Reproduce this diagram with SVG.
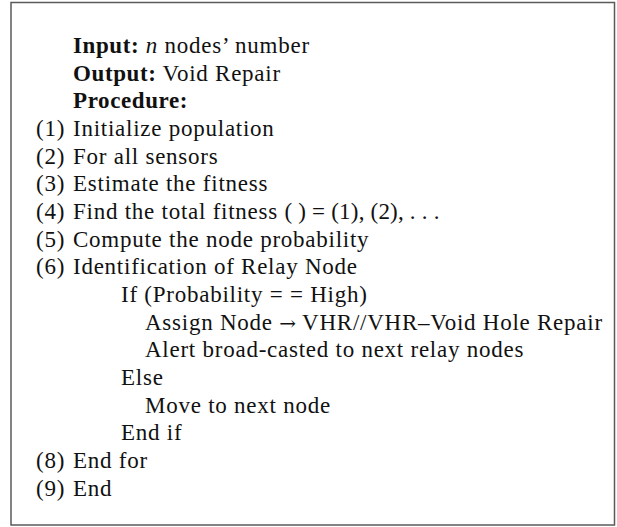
<svg xmlns="http://www.w3.org/2000/svg" width="617" height="527" viewBox="0 0 617 527">
  <style>
    .t { font-family: "Liberation Serif", "Times New Roman", serif; font-size: 23px; letter-spacing: 0.75px; fill: #111111; }
    .b { font-weight: bold; letter-spacing: 0.6px; }
    .i { font-style: italic; }
    .ar { font-family: "DejaVu Serif", serif; font-size: 20px; letter-spacing: 0; }
    .eq { letter-spacing: 0.2px; }
  </style>
  <rect width="617" height="527" fill="#ffffff"/>
  <g id="frame">
    <rect x="11" y="2.5" width="603.5" height="522.5" fill="none" stroke="#5a5a5a" stroke-width="1.5"/>
  </g>
  <g id="algorithm" class="t">
    <text x="73" y="53"><tspan class="b">Input:</tspan> <tspan class="i">n</tspan> nodes’ number</text>
    <text x="73" y="80.7"><tspan class="b">Output:</tspan> Void Repair</text>
    <text x="73" y="108.3"><tspan class="b">Procedure:</tspan></text>
    <text x="36" y="136">(1)</text><text x="73" y="136">Initialize population</text>
    <text x="36" y="163.7">(2)</text><text x="73" y="163.7">For all sensors</text>
    <text x="36" y="191.3">(3)</text><text x="73" y="191.3">Estimate the fitness</text>
    <text x="36" y="219">(4)</text><text x="73" y="219">Find the total fitness <tspan class="eq">( ) = (1), (2), . . .</tspan></text>
    <text x="36" y="246.7">(5)</text><text x="73" y="246.7">Compute the node probability</text>
    <text x="36" y="274.3">(6)</text><text x="73" y="274.3">Identification of Relay Node</text>
    <text x="121" y="302">If (Probability = = High)</text>
    <text x="145" y="329.7">Assign Node <tspan class="ar">→</tspan> VHR//VHR–Void Hole Repair</text>
    <text x="145" y="357.3">Alert broad-casted to next relay nodes</text>
    <text x="121" y="385">Else</text>
    <text x="145" y="412.7">Move to next node</text>
    <text x="121" y="440.3">End if</text>
    <text x="36" y="468">(8)</text><text x="73" y="468">End for</text>
    <text x="36" y="495.7">(9)</text><text x="73" y="495.7">End</text>
  </g>
</svg>
